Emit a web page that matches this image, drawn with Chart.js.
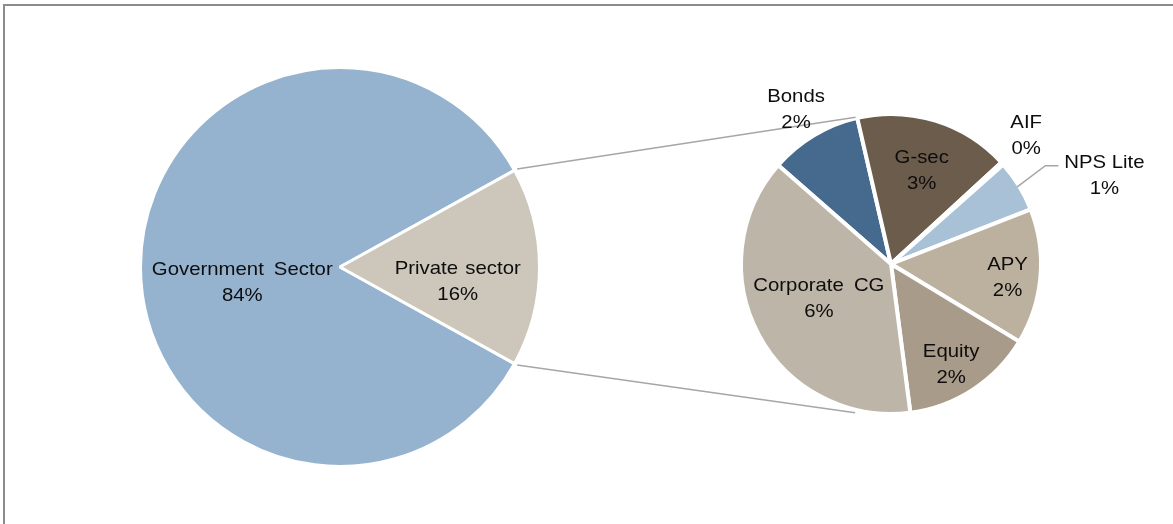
<!DOCTYPE html>
<html>
<head>
<meta charset="utf-8">
<script src="https://cdn.jsdelivr.net/npm/chart.js@4.4.1/dist/chart.umd.min.js"></script>
<style>
    body { margin: 0; background: #fff; }
    #wrap { position: relative; width: 1173px; height: 524px; overflow: hidden; }
    #frame { position: absolute; left: 3px; top: 4px; width: 1300px; height: 600px;
             border-top: 2px solid #8c8c8c; border-left: 2px solid #8c8c8c; }
    canvas { position: absolute; left: 0; top: 0; }
</style>
</head>
<body>
<div id="wrap">
    <div id="frame"></div>
    <canvas id="mainChart" width="1173" height="524"></canvas>
    <canvas id="subChart" width="1173" height="524"></canvas>
</div>
<script>
    // shares, % of the whole
    var mainLabels = ["Government Sector", "Private sector"];
    var mainValues = [83.9, 16.1];
    var mainColors = ["#95B3CF", "#CCC6BB"];

    // private sector split, % of the whole
    var subLabels = ["Bonds", "G-sec", "AIF", "NPS Lite", "APY", "Equity", "Corporate CG"];
    var subValues = [1.6, 2.7, 0.05, 0.9, 2.35, 2.3, 6.2];
    var subColors = ["#466A8E", "#6B5C4C", "#8E8E8E", "#A8C1D6", "#BCB09F", "#A99B89", "#BDB5A8"];

    // label placement: radial factor of the slice mid angle, then a pixel nudge
    var mainLabelFactor = [0.49, 0.59];
    var mainLabelNudge = [[0, 16], [0, 15]];
    var subLabelFactor = [1.22, 0.67, 1.25, 1.55, 0.78, 0.77, 0.53];
    var subLabelNudge = [[-1, 3], [1, 3], [-4, -2], [15, 33], [0, 4], [-3, 4], [-2, -3]];

    var mainChart, subChart;

    function drawText(ctx, text, x, y) {
        ctx.save();
        ctx.translate(x, y);
        ctx.scale(1.1, 1);
        ctx.fillText(text, 0, 0);
        ctx.restore();
    }

    function labelPlugin(names, values, factor, nudge) {
        return {
            id: 'sliceLabels',
            afterDatasetsDraw: function(chart) {
                var ctx = chart.ctx;
                var arcs = chart.getDatasetMeta(0).data;
                ctx.save();
                ctx.font = "18.5px 'Liberation Sans', Arial, sans-serif";
                ctx.fillStyle = "#0d0d0d";
                ctx.textAlign = "center";
                ctx.textBaseline = "middle";
                arcs.forEach(function(arc, i) {
                    var p = arc.getProps(['x', 'y', 'startAngle', 'endAngle', 'outerRadius'], true);
                    var mid = (p.startAngle + p.endAngle) / 2;
                    var lx = p.x + Math.cos(mid) * p.outerRadius * factor[i] + nudge[i][0];
                    var ly = p.y + Math.sin(mid) * p.outerRadius * factor[i] + nudge[i][1];
                    ctx.wordSpacing = names[i] === "NPS Lite" ? "0px" : (names[i] === "Private sector" ? "1.5px" : "4px");
                    drawText(ctx, names[i], lx, ly - 13);
                    drawText(ctx, Math.round(values[i]) + "%", lx, ly + 13);
                    if (names[i] === "NPS Lite") {
                        ctx.strokeStyle = "#a6a6a6";
                        ctx.lineWidth = 1.5;
                        ctx.beginPath();
                        ctx.moveTo(p.x + Math.cos(mid) * (p.outerRadius - 2), p.y + Math.sin(mid) * (p.outerRadius - 2));
                        ctx.lineTo(lx - 59, ly - 10);
                        ctx.lineTo(lx - 46, ly - 10);
                        ctx.stroke();
                    }
                });
                ctx.restore();
            }
        };
    }

    var connectorPlugin = {
        id: 'connectors',
        afterDatasetsDraw: function(chart) {
            var ctx = chart.ctx;
            var priv = mainChart.getDatasetMeta(0).data[1].getProps(['x', 'y', 'startAngle', 'endAngle', 'outerRadius'], true);
            var first = chart.getDatasetMeta(0).data[0].getProps(['x', 'y', 'endAngle', 'outerRadius'], true);
            var r0 = priv.outerRadius + 3;
            var r1 = first.outerRadius + 1;
            var a1 = first.endAngle - 0.01;
            ctx.save();
            ctx.strokeStyle = "#a6a6a6";
            ctx.lineWidth = 1.5;
            ctx.beginPath();
            ctx.moveTo(priv.x + Math.cos(priv.startAngle) * r0, priv.y + Math.sin(priv.startAngle) * r0);
            ctx.lineTo(first.x + Math.cos(a1) * r1, first.y + Math.sin(a1) * r1);
            ctx.moveTo(priv.x + Math.cos(priv.endAngle) * r0, priv.y + Math.sin(priv.endAngle) * r0);
            ctx.lineTo(first.x + Math.cos(-a1) * (r1 + 2), first.y + Math.sin(-a1) * (r1 + 2));
            ctx.stroke();
            ctx.restore();
        }
    };

    window.onload = function() {
        var privShare = mainValues[1] / (mainValues[0] + mainValues[1]) * 360;

        mainChart = new Chart("mainChart", {
            type: 'pie',
            data: {
                labels: mainLabels,
                datasets: [{
                    data: mainValues,
                    backgroundColor: mainColors,
                    borderColor: "#ffffff",
                    borderWidth: 3,
                    radius: 199.5,
                    rotation: 90 + privShare / 2
                }]
            },
            options: {
                responsive: false,
                animation: false,
                events: [],
                layout: { padding: { left: 140, right: 633, top: 67, bottom: 57 } },
                plugins: { legend: { display: false }, tooltip: { enabled: false } }
            },
            plugins: [labelPlugin(mainLabels, mainValues, mainLabelFactor, mainLabelNudge)]
        });

        var subTotal = subValues.reduce(function(a, b) { return a + b; }, 0);

        subChart = new Chart("subChart", {
            type: 'pie',
            data: {
                labels: subLabels,
                datasets: [{
                    data: subValues,
                    backgroundColor: subColors,
                    borderColor: "#ffffff",
                    borderWidth: 4,
                    radius: 150,
                    rotation: -13 - subValues[0] / subTotal * 360
                }]
            },
            options: {
                responsive: false,
                animation: false,
                events: [],
                layout: { padding: { left: 741, right: 132, top: 114, bottom: 110 } },
                plugins: { legend: { display: false }, tooltip: { enabled: false } }
            },
            plugins: [connectorPlugin, labelPlugin(subLabels, subValues, subLabelFactor, subLabelNudge)]
        });
    };
</script>
</body>
</html>
